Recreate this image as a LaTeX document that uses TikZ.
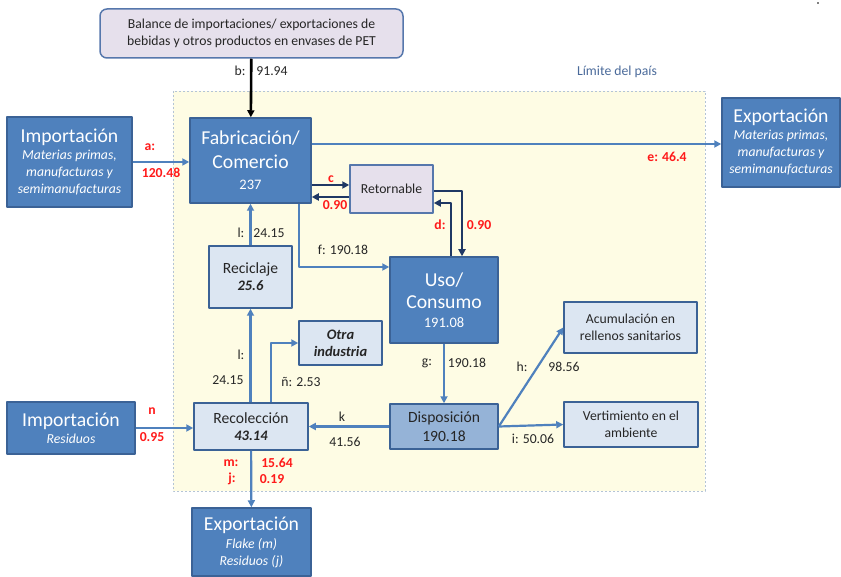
\documentclass[tikz,border=0pt]{standalone}
\usepackage{fontspec}
\setmainfont{Carlito}
\usetikzlibrary{arrows.meta}
\definecolor{azul}{HTML}{4F81BD}
\definecolor{azulborde}{HTML}{3B6296}
\definecolor{azulclaro}{HTML}{DCE6F2}
\definecolor{azulmedio}{HTML}{95B3D7}
\definecolor{lila}{HTML}{E6E0EC}
\definecolor{lilaborde}{HTML}{5677AC}
\definecolor{marino}{HTML}{1F3864}
\definecolor{amarillo}{HTML}{FEFCE4}
\definecolor{limborde}{HTML}{B4C4D6}
\definecolor{limite}{HTML}{4A6A9A}
\definecolor{rojo}{HTML}{FF1A1A}
\definecolor{texto}{HTML}{262626}
\newcommand{\tgrande}{\fontsize{19.7}{24}\selectfont}
\newcommand{\tmedio}{\fontsize{15.6}{19}\selectfont}
\newcommand{\tnum}{\fontsize{14.5}{17}\selectfont}
\newcommand{\tchico}{\fontsize{13.7}{17}\selectfont}
\tikzset{
  caja/.style={draw=azulborde,line width=1.5pt,fill=azul,text=white,align=center,inner sep=0pt},
  cajaclara/.style={draw=azulborde,line width=1.5pt,fill=azulclaro,text=texto,align=center,inner sep=0pt},
  cajamedia/.style={draw=azulborde,line width=1.5pt,fill=azulmedio,text=texto,align=center,inner sep=0pt},
  cajalila/.style={draw=lilaborde,line width=1.5pt,fill=lila,text=texto,align=center,inner sep=0pt},
  flujo/.style={->,draw=azul,line width=2.2pt},
  flujomar/.style={->,draw=marino,line width=2.2pt},
  etiq/.style={text=texto,inner sep=0pt},
  roja/.style={text=rojo,font=\tchico\bfseries,inner sep=0pt}
}
\begin{document}
\begin{tikzpicture}[x=1pt,y=-1pt,>={Triangle[length=7pt,width=7pt]},line join=round,font=\tchico]
\useasboundingbox (0,0) rectangle (841,577);
% limite del pais
\draw[draw=limborde,line width=0.8pt,dash pattern=on 2pt off 2pt,fill=amarillo] (173,91) rectangle (705,491);
\node[text=limite,inner sep=0pt] (limite) at (617,72) {Límite del país};
\fill (818,3) circle (0.8pt);
% cajas
\node[cajalila,rounded corners=7pt,minimum width=303pt,minimum height=49pt] (balance) at (251.5,33.5)
  {Balance de importaciones/ exportaciones de\\bebidas y otros productos en envases de PET};
\node[caja,minimum width=125pt,minimum height=90pt] (imp1) at (69.5,162)
  {{\tgrande Importación}\\{\itshape Materias primas,}\\{\itshape manufacturas y}\\{\itshape semimanufacturas}};
\node[caja,minimum width=121pt,minimum height=85pt] (fab) at (250.5,160.5)
  {{\tgrande Fabricación/}\\[7pt]{\tgrande Comercio}\\[4pt]{\tnum 237}};
\node[caja,minimum width=118pt,minimum height=89pt] (exp1) at (781,142.5)
  {{\tgrande Exportación}\\{\itshape Materias primas,}\\{\itshape manufacturas y}\\{\itshape semimanufacturas}};
\node[cajalila,minimum width=83pt,minimum height=48pt] (ret) at (391.5,189) {Retornable};
\node[caja,minimum width=108pt,minimum height=86pt] (uso) at (444,300)
  {{\tgrande Uso/}\\[5pt]{\tgrande Consumo}\\[2pt]{\tnum 191.08}};
\node[cajaclara,minimum width=83pt,minimum height=62pt] (recic) at (250.5,277)
  {{\tmedio Reciclaje}\\{\tnum\bfseries\itshape 25.6}};
\node[cajaclara,minimum width=114pt,minimum height=47pt] (recol) at (251,426.5)
  {{\tmedio Recolección}\\{\tnum\bfseries\itshape 43.14}};
\node[cajaclara,minimum width=83pt,minimum height=44pt,font=\tnum\bfseries\itshape] (otra) at (340.5,343)
  {Otra\\industria};
\node[caja,minimum width=128pt,minimum height=52pt] (imp2) at (71,428)
  {{\tgrande Importación}\\{\itshape Residuos}};
\node[cajamedia,minimum width=108pt,minimum height=45pt,font=\tmedio] (disp) at (444,426.5)
  {Disposición\\190.18};
\node[cajaclara,minimum width=133pt,minimum height=51pt] (acum) at (630.5,327.5)
  {Acumulación en\\rellenos sanitarios};
\node[cajaclara,minimum width=134pt,minimum height=45pt] (vert) at (631,424.5)
  {Vertimiento en el\\ambiente};
\node[caja,minimum width=119pt,minimum height=68pt] (exp2) at (251.5,542)
  {{\tgrande Exportación}\\[1pt]{\itshape Flake (m)}\\{\itshape Residuos (j)}};
% puntos de paso
\coordinate (ye) at (0,144);
\coordinate (yc) at (0,185);
\coordinate (yc2) at (0,197);
\coordinate (yd) at (451,203);
\coordinate (yd2) at (462,191);
\coordinate (yf) at (299,267);
\coordinate (yn) at (271,343);
% flujos
\draw[->,line width=2.6pt] (balance) -- (fab);
\draw[flujo] (imp1) -- (fab.west |- imp1);
\draw[flujo] (fab.east |- ye) -- (exp1.west |- ye);
\draw[flujomar] (fab.east |- yc) -- (ret.west |- yc);
\draw[flujomar] (ret.west |- yc2) -- (fab.east |- yc2);
\draw[flujomar] (uso.north -| yd) |- (ret.east |- yd);
\draw[flujomar] (ret.east |- yd2) -| (uso.north -| yd2);
\draw[flujo] (fab.south -| yf) |- (uso.west |- yf);
\draw[flujo] (recic) -- (fab);
\draw[flujo] (recol.north -| recic) -- (recic);
\draw[flujo] (recol.north -| yn) |- (otra.west);
\draw[flujo] (imp2) -- (recol.west |- imp2);
\draw[flujo] (disp) -- (recol);
\draw[flujo] (uso) -- (disp);
\draw[flujo] (disp.east) -- (acum.west);
\draw[flujo] (disp.east) -- (vert.west);
\draw[flujo] (recol) -- (exp2);
% etiquetas
\node[etiq] (lb) at (240,71) {b:};
\node[etiq] (vb) at (272,71) {91.94};
\node[roja] (la) at (150,147) {a:};
\node[roja] (va) at (161,173) {120.48};
\node[roja] (le) at (667,157) {e: 46.4};
\node[roja] (lc) at (331,179) {c};
\node[roja] (vc) at (335,205) {0.90};
\node[roja] (ld) at (440,225) {d:};
\node[roja] (vd) at (479,225) {0.90};
\node[etiq] (lf) at (343,250) {f: 190.18};
\node[etiq] (ll1) at (241,233) {l:};
\node[etiq] (vl1) at (269,233) {24.15};
\node[etiq] (ll2) at (241,355) {l:};
\node[etiq] (vl2) at (228,380) {24.15};
\node[etiq] (lnn) at (301,382) {ñ: 2.53};
\node[etiq] (lg) at (427,363) {g:};
\node[etiq] (vg) at (467,363) {190.18};
\node[etiq] (lh) at (522,367) {h:};
\node[etiq] (vh) at (564,367) {98.56};
\node[etiq] (lk) at (342,417) {k};
\node[etiq] (vk) at (345,442) {41.56};
\node[etiq] (li) at (533,439) {i: 50.06};
\node[roja] (ln) at (152,411) {n};
\node[roja] (vn) at (152,437) {0.95};
\node[roja] (lm) at (231,463) {m:};
\node[roja] (vm) at (277,463) {15.64};
\node[roja] (lj) at (232,479) {j:};
\node[roja] (vj) at (272,479) {0.19};
\end{tikzpicture}
\end{document}
